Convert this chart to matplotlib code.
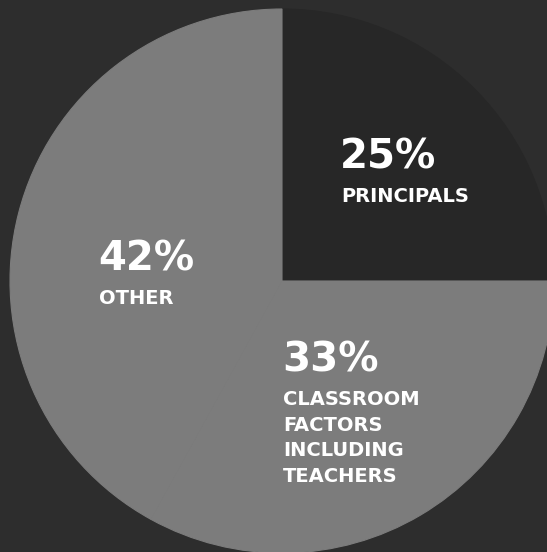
import matplotlib
matplotlib.use("Agg")
import matplotlib.pyplot as plt

# Data
labels = ["PRINCIPALS", "CLASSROOM\nFACTORS\nINCLUDING\nTEACHERS", "OTHER"]
values = [25, 33, 42]
pct_labels = ["25%", "33%", "42%"]

colors = ["#272727", "#7c7c7c", "#7c7c7c"]
bg = "#2d2d2d"

W, H = 547, 552
fig = plt.figure(figsize=(W / 100, H / 100), dpi=100, facecolor=bg)
ax = fig.add_axes([0, 0, 1, 1])
ax.set_facecolor(bg)

cx, cy, R = 282, 281, 272  # pixel layout of the pie
wedges, _ = ax.pie(values, colors=colors, startangle=90, counterclock=False, radius=1)
for w, c in zip(wedges, colors):
    w.set_edgecolor(c)
    w.set_linewidth(0.8)
ax.set_xlim(-cx / R, (W - cx) / R)
ax.set_ylim(-(H - cy) / R, cy / R)
ax.set_aspect("equal")
ax.axis("off")

def px(x, y):
    return (x - cx) / R, (cy - y) / R

font = ["DejaVu Sans"]
# label anchor pixels (left, top of percentage)
anchors = [(340, 137), (282, 340), (98, 239)]
for pct, lab, (x, y) in zip(pct_labels, labels, anchors):
    ax.text(*px(x, y), pct, color="white", fontsize=29, fontweight="bold",
            family=font, ha="left", va="top")
    ax.text(*px(x + 1, y + 50), lab, color="white", fontsize=14, fontweight="bold",
            family=font, ha="left", va="top", linespacing=1.44)

fig.savefig("out.png", dpi=100, facecolor=bg)
